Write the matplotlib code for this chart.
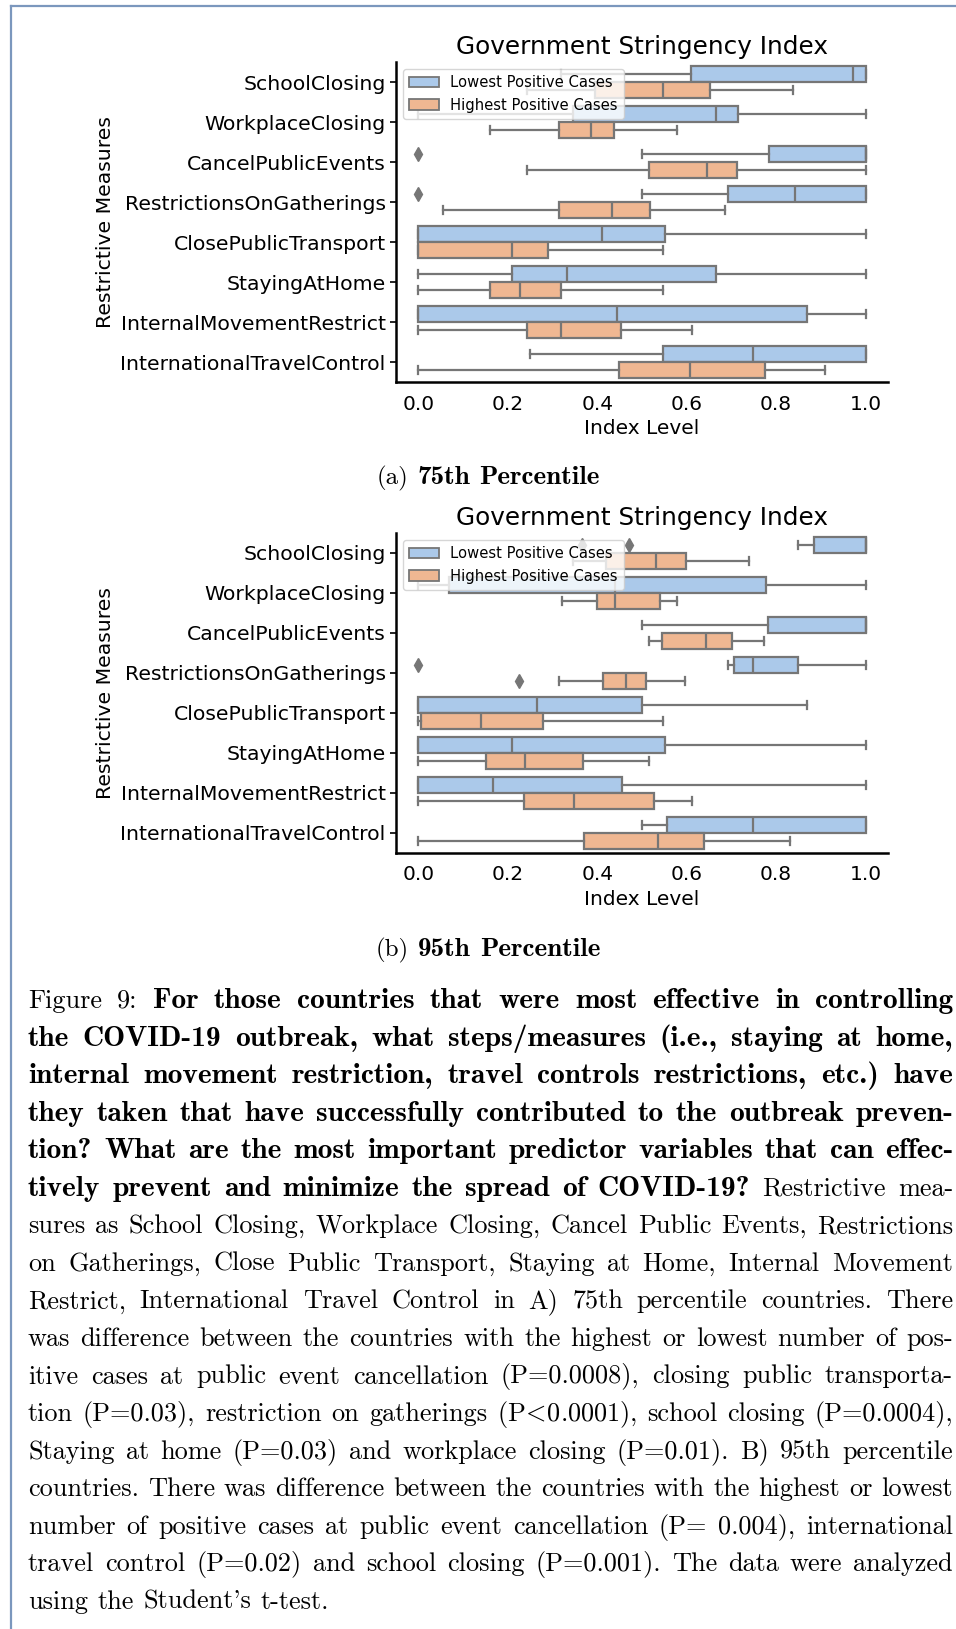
import matplotlib.pyplot as plt
from matplotlib.patches import Patch
from matplotlib.lines import Line2D

plt.rcParams["font.family"] = "DejaVu Sans"
plt.rcParams["mathtext.fontset"] = "cm"

W, H = 956, 1629

measures = ["SchoolClosing", "WorkplaceClosing", "CancelPublicEvents",
            "RestrictionsOnGatherings", "ClosePublicTransport", "StayingAtHome",
            "InternalMovementRestrict", "InternationalTravelControl"]

# (a) 75th percentile - lowest positive cases
p75_low_whislo = [0.32, 0.0, 0.50, 0.50, 0.0, 0.0, 0.0, 0.25]
p75_low_q1 = [0.61, 0.345, 0.783, 0.693, 0.0, 0.209, 0.0, 0.548]
p75_low_med = [0.972, 0.665, 1.0, 0.842, 0.411, 0.333, 0.443, 0.749]
p75_low_q3 = [1.0, 0.715, 1.0, 1.0, 0.552, 0.666, 0.870, 1.0]
p75_low_whishi = [1.0, 1.0, 1.0, 1.0, 1.0, 1.0, 1.0, 1.0]
p75_low_fliers = [[], [], [0.0], [0.0], [], [], [], []]

# (a) 75th percentile - highest positive cases
p75_high_whislo = [0.242, 0.160, 0.242, 0.056, 0.0, 0.0, 0.0, 0.0]
p75_high_q1 = [0.394, 0.314, 0.516, 0.314, 0.0, 0.160, 0.242, 0.449]
p75_high_med = [0.548, 0.386, 0.645, 0.432, 0.210, 0.227, 0.318, 0.608]
p75_high_q3 = [0.652, 0.438, 0.713, 0.517, 0.290, 0.320, 0.454, 0.776]
p75_high_whishi = [0.838, 0.579, 1.0, 0.685, 0.548, 0.548, 0.612, 0.910]
p75_high_fliers = [[], [], [], [], [], [], [], []]

# (b) 95th percentile - lowest positive cases
p95_low_whislo = [0.849, 0.0, 0.50, 0.693, 0.0, 0.0, 0.0, 0.50]
p95_low_q1 = [0.885, 0.069, 0.781, 0.706, 0.0, 0.0, 0.0, 0.556]
p95_low_med = [1.0, 0.44, 1.0, 0.749, 0.266, 0.210, 0.167, 0.749]
p95_low_q3 = [1.0, 0.778, 1.0, 0.848, 0.50, 0.551, 0.455, 1.0]
p95_low_whishi = [1.0, 1.0, 1.0, 1.0, 0.870, 1.0, 1.0, 1.0]
p95_low_fliers = [[0.365, 0.472], [], [], [0.0], [], [], [], []]

# (b) 95th percentile - highest positive cases
p95_high_whislo = [0.345, 0.322, 0.516, 0.314, 0.0, 0.0, 0.0, 0.0]
p95_high_q1 = [0.42, 0.40, 0.544, 0.413, 0.005, 0.152, 0.237, 0.37]
p95_high_med = [0.532, 0.44, 0.644, 0.464, 0.14, 0.239, 0.349, 0.535]
p95_high_q3 = [0.599, 0.54, 0.701, 0.508, 0.279, 0.367, 0.526, 0.638]
p95_high_whishi = [0.740, 0.579, 0.773, 0.597, 0.548, 0.515, 0.612, 0.830]
p95_high_fliers = [[], [], [], [0.225], [], [], [], []]

x_ticks = [0.0, 0.2, 0.4, 0.6, 0.8, 1.0]
legend_labels = ["Lowest Positive Cases", "Highest Positive Cases"]

# caption text, line by line: (text, bold)
caption_lines = [
    [("Figure 9:", False), ("For those countries that were most effective in controlling", True)],
    [("the COVID-19 outbreak, what steps/measures (i.e., staying at home,", True)],
    [("internal movement restriction, travel controls restrictions, etc.) have", True)],
    [("they taken that have successfully contributed to the outbreak preven-", True)],
    [("tion? What are the most important predictor variables that can effec-", True)],
    [("tively prevent and minimize the spread of COVID-19?", True), ("Restrictive mea-", False)],
    [("sures as School Closing, Workplace Closing, Cancel Public Events, Restrictions", False)],
    [("on Gatherings, Close Public Transport, Staying at Home, Internal Movement", False)],
    [("Restrict, International Travel Control in A) 75th percentile countries. There", False)],
    [("was difference between the countries with the highest or lowest number of pos-", False)],
    [("itive cases at public event cancellation (P=0.0008), closing public transporta-", False)],
    [("tion (P=0.03), restriction on gatherings (P$\\!<\\!$0.0001), school closing (P=0.0004),", False)],
    [("Staying at home (P=0.03) and workplace closing (P=0.01). B) 95th percentile", False)],
    [("countries. There was difference between the countries with the highest or lowest", False)],
    [("number of positive cases at public event cancellation (P= 0.004), international", False)],
    [("travel control (P=0.02) and school closing (P=0.001). The data were analyzed", False)],
    [("using the Student's t-test.", False)],
]

blue = "#abc9ea"
orange = "#efb792"
gray = "#767676"

fig = plt.figure(figsize=(W / 100, H / 100), dpi=100)


def make_stats(whislo, q1, med, q3, whishi, fliers):
    return [dict(whislo=a, q1=b, med=c, q3=d, whishi=e, fliers=f)
            for a, b, c, d, e, f in zip(whislo, q1, med, q3, whishi, fliers)]


def draw_panel(ax, low_stats, high_stats):
    n = len(measures)
    for stats, offset, color in [(low_stats, -0.2, blue), (high_stats, 0.2, orange)]:
        ax.bxp(stats, positions=[i + offset for i in range(n)], widths=0.39,
               orientation="horizontal", patch_artist=True, manage_ticks=False,
               boxprops=dict(facecolor=color, edgecolor=gray, linewidth=1.6),
               whiskerprops=dict(color=gray, linewidth=1.6),
               capprops=dict(color=gray, linewidth=1.6),
               medianprops=dict(color=gray, linewidth=1.6),
               flierprops=dict(marker="d", markerfacecolor=gray,
                               markeredgecolor=gray, markersize=7))

    ax.set_xlim(-0.05, 1.05)
    ax.set_ylim(n - 0.5, -0.5)
    ax.set_yticks(range(n))
    ax.set_yticklabels(measures, fontsize=14.7)
    ax.set_xticks(x_ticks)
    ax.set_xticklabels([f"{v:.1f}" for v in x_ticks], fontsize=14.5)
    ax.tick_params(axis="x", length=0, pad=9)
    ax.tick_params(axis="y", length=4, width=1.2)

    ax.set_xlabel("Index Level", fontsize=14.5)
    ax.set_ylabel("Restrictive Measures", fontsize=14.7)
    ax.set_title("Government Stringency Index", fontsize=17.8)

    for side in ["top", "right"]:
        ax.spines[side].set_visible(False)
    for side in ["left", "bottom"]:
        ax.spines[side].set_linewidth(1.8)
        ax.spines[side].set_color("black")

    handles = [Patch(facecolor=blue, edgecolor=gray, linewidth=1.3),
               Patch(facecolor=orange, edgecolor=gray, linewidth=1.3)]
    ax.legend(handles, legend_labels, loc="upper left", fontsize=10.6, framealpha=0.8)


ax_top = fig.add_axes([396 / W, 1 - 382 / H, 492 / W, 320 / H])
draw_panel(ax_top,
           make_stats(p75_low_whislo, p75_low_q1, p75_low_med, p75_low_q3, p75_low_whishi, p75_low_fliers),
           make_stats(p75_high_whislo, p75_high_q1, p75_high_med, p75_high_q3, p75_high_whishi, p75_high_fliers))

ax_bot = fig.add_axes([396 / W, 1 - 853 / H, 492 / W, 320 / H])
draw_panel(ax_bot,
           make_stats(p95_low_whislo, p95_low_q1, p95_low_med, p95_low_q3, p95_low_whishi, p95_low_fliers),
           make_stats(p95_high_whislo, p95_high_q1, p95_high_med, p95_high_q3, p95_high_whishi, p95_high_fliers))

# page frame
frame_color = "#7b97bd"
fig.add_artist(Line2D([11 / W, 11 / W], [0, 1 - 6 / H], color=frame_color, linewidth=1.6))
fig.add_artist(Line2D([11 / W, 1], [1 - 6 / H, 1 - 6 / H], color=frame_color, linewidth=1.6))

renderer = fig.canvas.get_renderer()


def place_words(words, y, size, bold_size, mode, left=28, right=953, center=None):
    # words are placed one by one so that lines can be justified like LaTeX
    texts = []
    for word, bold in words:
        t = fig.text(0, 1 - y / H, word, va="baseline",
                     fontsize=bold_size if bold else size,
                     family="cmb10" if bold else "cmr10")
        texts.append(t)
    widths = [t.get_window_extent(renderer).width for t in texts]
    space = 0.36 * size * 100 / 72
    if mode == "justify":
        gap = (right - left - sum(widths)) / (len(texts) - 1)
        x = left
    elif mode == "center":
        gap = space
        x = center - (sum(widths) + gap * (len(texts) - 1)) / 2
    else:
        gap = space
        x = left
    for t, w in zip(texts, widths):
        t.set_x(x / W)
        x += w + gap


# sub-captions
place_words([("(a)", False), ("75th", True), ("Percentile", True)], 484, 18, 19.5, "center", center=488)
place_words([("(b)", False), ("95th", True), ("Percentile", True)], 956, 18, 19.5, "center", center=488)

# figure caption
for i, line in enumerate(caption_lines):
    words = [(w, bold) for seg, bold in line for w in seg.split()]
    mode = "left" if i == len(caption_lines) - 1 else "justify"
    place_words(words, 1008 + i * 37.55, 18.9, 21.2, mode)

fig.savefig("out.png", dpi=100)
